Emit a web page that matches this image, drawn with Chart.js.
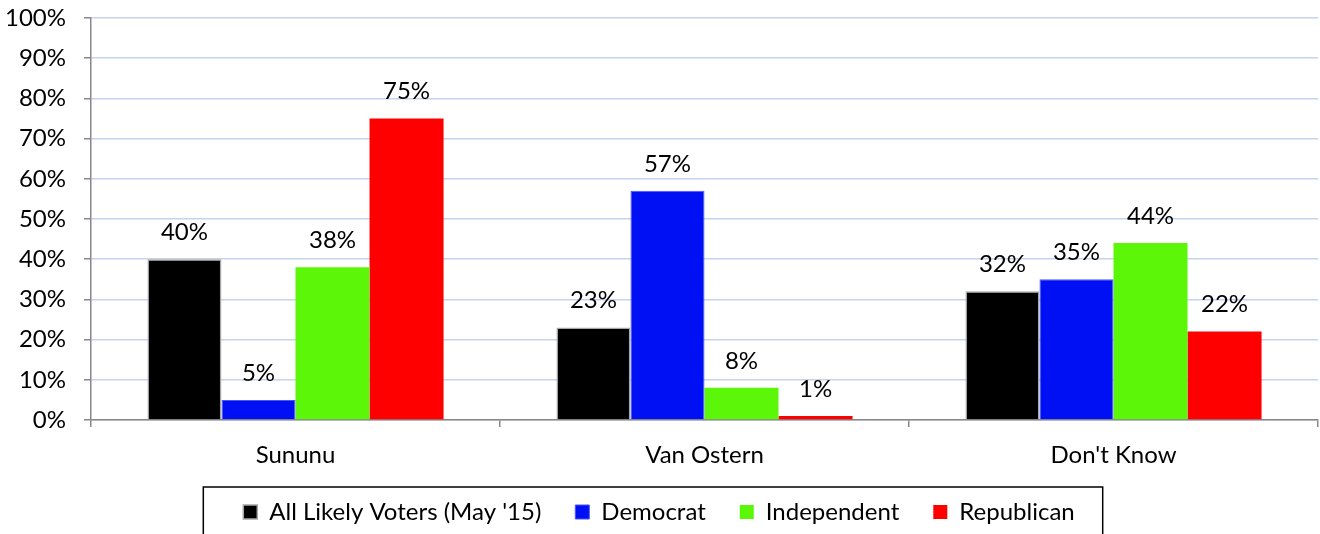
<!DOCTYPE html>
<html>
<head>
<meta charset="utf-8">
<script src="https://cdn.jsdelivr.net/npm/chart.js@4"></script>
<style>
    html, body { margin: 0; padding: 0; background: #fff; overflow: hidden; }
    #wrap { width: 1320px; height: 534px; }
</style>
</head>
<body>
<div id="wrap"><canvas id="pollChart" width="1320" height="534"></canvas></div>
<script>
// Poll results by party
const categories = ['Sununu', 'Van Ostern', "Don't Know"];
const allVoters = [40, 23, 32];
const democrat = [5, 57, 35];
const independent = [38, 8, 44];
const republican = [75, 1, 22];

const FONT = 'Lato, "Open Sans", sans-serif';
const FONT_SIZE = 24;

// Draw the value above each bar
const valueLabels = {
    id: 'valueLabels',
    afterDatasetsDraw(chart) {
        const ctx = chart.ctx;
        ctx.save();
        ctx.font = FONT_SIZE + 'px ' + FONT;
        ctx.fillStyle = '#000';
        ctx.textAlign = 'center';
        ctx.textBaseline = 'middle';
        chart.data.datasets.forEach((ds, i) => {
            chart.getDatasetMeta(i).data.forEach((bar, j) => {
                ctx.fillText(ds.data[j] + '%', bar.x, bar.y - 27);
            });
        });
        ctx.restore();
    }
};

// Box around the legend
const legendFrame = {
    id: 'legendFrame',
    afterDraw(chart) {
        const legend = chart.legend;
        if (!legend || !legend.legendHitBoxes.length) return;
        const boxes = legend.legendHitBoxes;
        const left = Math.min(...boxes.map(b => b.left)) - 40;
        const right = Math.max(...boxes.map(b => b.left + b.width)) + 28;
        const top = boxes[0].top - 13;
        const ctx = chart.ctx;
        ctx.save();
        ctx.strokeStyle = '#000';
        ctx.lineWidth = 1.5;
        ctx.strokeRect(left, top, right - left, chart.height - top + 10);
        ctx.restore();
    }
};

const ctx = document.getElementById('pollChart').getContext('2d');

new Chart(ctx, {
    type: 'bar',
    data: {
        labels: categories,
        datasets: [
            {
                label: "All Likely Voters (May '15)",
                data: allVoters,
                backgroundColor: '#000000',
                borderColor: '#a6a6a6',
                borderWidth: 1.5
            },
            {
                label: 'Democrat',
                data: democrat,
                backgroundColor: '#0010f5',
                borderColor: '#4a55f5',
                borderWidth: 1
            },
            {
                label: 'Independent',
                data: independent,
                backgroundColor: '#5cf708',
                borderWidth: 0
            },
            {
                label: 'Republican',
                data: republican,
                backgroundColor: '#ff0000',
                borderWidth: 0
            }
        ]
    },
    options: {
        responsive: false,
        animation: false,
        categoryPercentage: 0.724,
        barPercentage: 1.0,
        layout: {
            padding: { top: 18, right: 2, left: 0, bottom: 0 }
        },
        plugins: {
            legend: {
                position: 'bottom',
                labels: {
                    boxWidth: 14,
                    boxHeight: 14,
                    padding: 34,
                    color: '#000',
                    font: { family: FONT, size: FONT_SIZE }
                }
            },
            tooltip: { enabled: false }
        },
        scales: {
            y: {
                min: 0,
                max: 100,
                afterFit(scale) {
                    scale.width = 91;
                    // keep the top label overflow from pushing the plot down
                    scale.paddingTop = 10;
                    scale.paddingBottom = 10;
                },
                ticks: {
                    stepSize: 10,
                    padding: 18,
                    color: '#000',
                    font: { family: FONT, size: FONT_SIZE },
                    callback: v => v + '%'
                },
                grid: {
                    color: '#c5d3ee',
                    lineWidth: 1.5,
                    tickColor: '#888',
                    tickLength: 7
                },
                border: { color: '#888', width: 1.5 }
            },
            x: {
                afterFit(scale) {
                    scale.height = 46;
                    // let the labels run past the axis box instead of being clipped
                    scale._computeLabelArea = () => undefined;
                },
                ticks: {
                    padding: 14,
                    color: '#000',
                    font: { family: FONT, size: FONT_SIZE }
                },
                grid: {
                    offset: true,
                    drawOnChartArea: false,
                    tickColor: '#888',
                    tickLength: 7,
                    lineWidth: 1.5
                },
                border: { color: '#888', width: 1.5 }
            }
        }
    },
    plugins: [valueLabels, legendFrame]
});
</script>
</body>
</html>
